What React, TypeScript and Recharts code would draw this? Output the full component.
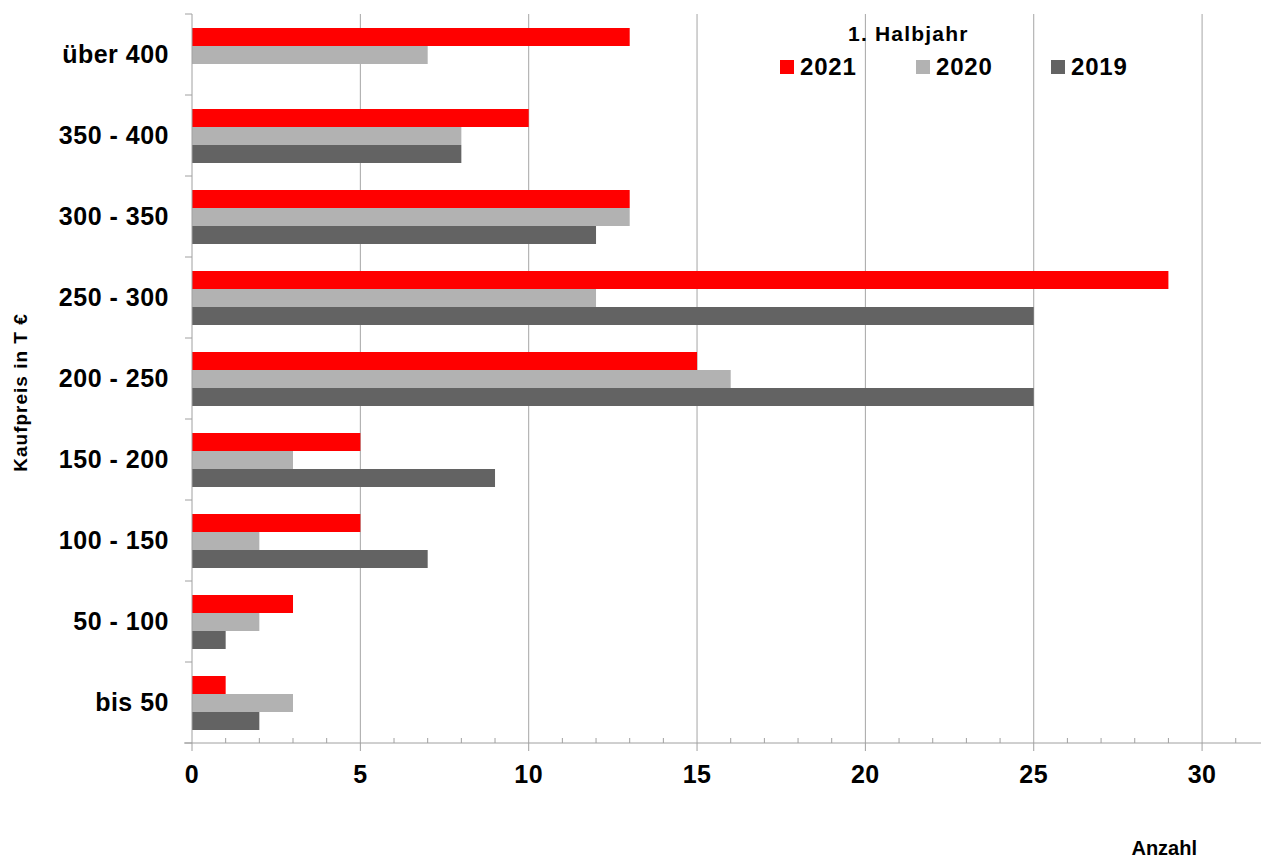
import { BarChart, Bar, XAxis, YAxis, CartesianGrid, Label } from "recharts";

const categories = ["über 400", "350 - 400", "300 - 350", "250 - 300", "200 - 250", "150 - 200", "100 - 150", "50 - 100", "bis 50"];
const values2021 = [13, 10, 13, 29, 15, 5, 5, 3, 1];
const values2020 = [7, 8, 13, 12, 16, 3, 2, 2, 3];
const values2019 = [null, 8, 12, 25, 25, 9, 7, 1, 2];
const seriesNames = ["2021", "2020", "2019"];
const seriesColors = ["#FF0000", "#B2B2B2", "#636363"];
const xTicks = [0, 1, 2, 3, 4, 5, 6, 7, 8, 9, 10, 11, 12, 13, 14, 15, 16, 17, 18, 19, 20, 21, 22, 23, 24, 25, 26, 27, 28, 29, 30, 31];
const majorTicks = [0, 5, 10, 15, 20, 25, 30];
const gridTicks = [5, 10, 15, 20, 25, 30];
const X_MAX = 31.75;

const data = categories.map((c, i) => ({
  name: c,
  y2021: values2021[i],
  y2020: values2020[i],
  y2019: values2019[i],
}));

const FONT = "'Liberation Sans', Arial, sans-serif";
const AXIS = "#A0A0A0";
const GRID = "#A6A6A6";

const XTick = (props: any) => {
  const { x, y, payload } = props;
  const v = payload.value;
  const major = majorTicks.includes(v);
  return (
    <g>
      {major ? (
        <line x1={x} x2={x} y1={y} y2={y + 8} stroke={AXIS} />
      ) : (
        <line x1={x} x2={x} y1={y - 5} y2={y} stroke={AXIS} />
      )}
      {v === 0 && <line x1={x - 8} x2={x} y1={y} y2={y} stroke={AXIS} />}
      {major && (
        <text x={x} y={y + 40} textAnchor="middle" fontFamily={FONT} fontWeight="bold" fontSize={25} letterSpacing={0.5} fill="#000">
          {v}
        </text>
      )}
    </g>
  );
};

const YTick = (props: any) => {
  const { x, y, payload, index } = props;
  const half = payload.offset || 40.5;
  return (
    <g>
      <line x1={x - 7} x2={x} y1={y - half} y2={y - half} stroke={AXIS} />
      {index === categories.length - 1 && <line x1={x - 7} x2={x} y1={y + half} y2={y + half} stroke={AXIS} />}
      <text x={x - 23} y={y + 8.5} textAnchor="end" fontFamily={FONT} fontWeight="bold" fontSize={25} letterSpacing={0.5} fill="#000">
        {payload.value}
      </text>
    </g>
  );
};

export default function App() {
  return (
    <div style={{ position: "relative", width: 1261, height: 860 }}>
      <style>{`body{margin:0}`}</style>
      <BarChart
        width={1261}
        height={860}
        data={data}
        layout="vertical"
        margin={{ top: 14, right: 0, bottom: 0, left: 0 }}
        barGap={0}
        barSize={18}
      >
        <CartesianGrid
          horizontal={false}
          stroke={GRID}
          verticalCoordinatesGenerator={({ offset }: any) =>
            gridTicks.map((t) => offset.left + (t / X_MAX) * offset.width)
          }
        />
        <XAxis
          type="number"
          domain={[0, X_MAX]}
          allowDataOverflow
          ticks={xTicks}
          interval={0}
          height={117}
          tickSize={0}
          tickMargin={0}
          tickLine={false}
          axisLine={{ stroke: AXIS }}
          tick={<XTick />}
        >
          <Label
            content={({ viewBox }: any) => (
              <text
                x={viewBox.x + viewBox.width - 64}
                y={viewBox.y + viewBox.height - 5}
                textAnchor="end"
                fontFamily={FONT}
                fontWeight="bold"
                fontSize={20}
                fill="#000"
              >
                Anzahl
              </text>
            )}
          />
        </XAxis>
        <YAxis
          type="category"
          dataKey="name"
          width={192}
          tickSize={0}
          tickMargin={0}
          tickLine={false}
          interval={0}
          axisLine={{ stroke: AXIS }}
          tick={<YTick />}
        >
          <Label
            content={({ viewBox }: any) => {
              const cx = 27;
              const cy = viewBox.y + viewBox.height / 2 + 14;
              return (
                <text
                  x={cx}
                  y={cy}
                  transform={`rotate(-90, ${cx}, ${cy})`}
                  textAnchor="middle"
                  fontFamily={FONT}
                  fontWeight="bold"
                  fontSize={19}
                  letterSpacing={1}
                  fill="#000"
                >
                  Kaufpreis in T €
                </text>
              );
            }}
          />
        </YAxis>
        <Bar dataKey="y2021" name={seriesNames[0]} fill={seriesColors[0]} isAnimationActive={false} />
        <Bar dataKey="y2020" name={seriesNames[1]} fill={seriesColors[1]} isAnimationActive={false} />
        <Bar dataKey="y2019" name={seriesNames[2]} fill={seriesColors[2]} isAnimationActive={false} />
      </BarChart>
      <svg width={1261} height={90} style={{ position: "absolute", left: 0, top: 0, pointerEvents: "none" }}>
        <text x={848} y={41} fontFamily={FONT} fontWeight="bold" fontSize={21} letterSpacing={1.2} fill="#000">
          1. Halbjahr
        </text>
        {seriesNames.map((n, i) => {
          const sx = [780, 916, 1051][i];
          return (
            <g key={n}>
              <rect x={sx} y={60} width={14} height={14} fill={seriesColors[i]} />
              <text x={sx + 20} y={75} fontFamily={FONT} fontWeight="bold" fontSize={24} letterSpacing={0.8} fill="#000">
                {n}
              </text>
            </g>
          );
        })}
      </svg>
    </div>
  );
}
